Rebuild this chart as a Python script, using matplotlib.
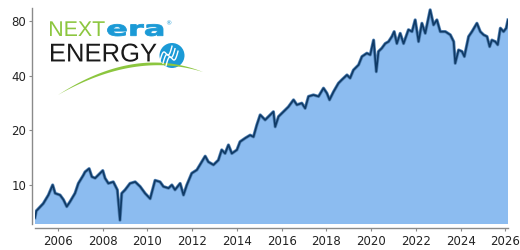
import matplotlib
matplotlib.use("Agg")
import matplotlib.pyplot as plt
import numpy as np
from matplotlib.textpath import TextPath
from matplotlib.font_manager import FontProperties
from matplotlib.patches import PathPatch, Ellipse, Polygon
from matplotlib.transforms import Affine2D
from matplotlib.ticker import FixedLocator, FixedFormatter, NullLocator

# price history (decimal year, adjusted price)
years = [2004.97, 2005.03, 2005.12, 2005.34, 2005.57, 2005.76, 2005.87, 2006.09, 2006.24,
         2006.39, 2006.54, 2006.76, 2006.91, 2007.13, 2007.21, 2007.39, 2007.51, 2007.66,
         2007.88, 2008.00, 2008.10, 2008.25, 2008.47, 2008.65, 2008.77, 2008.85, 2009.00,
         2009.22, 2009.45, 2009.67, 2009.89, 2010.12, 2010.34, 2010.56, 2010.71, 2010.94,
         2011.09, 2011.23, 2011.46, 2011.61, 2011.76, 2011.98, 2012.21, 2012.43, 2012.58,
         2012.72, 2012.95, 2013.17, 2013.32, 2013.47, 2013.62, 2013.77, 2014.00, 2014.14,
         2014.37, 2014.59, 2014.74, 2014.89, 2015.04, 2015.26, 2015.49, 2015.63, 2015.71,
         2015.86, 2016.08, 2016.30, 2016.53, 2016.68, 2016.90, 2017.05, 2017.20, 2017.42,
         2017.65, 2017.87, 2018.02, 2018.14, 2018.32, 2018.54, 2018.69, 2018.92, 2019.06,
         2019.21, 2019.44, 2019.59, 2019.81, 2019.96, 2020.11, 2020.23, 2020.33, 2020.48,
         2020.63, 2020.78, 2020.93, 2021.03, 2021.15, 2021.30, 2021.45, 2021.67, 2021.83,
         2021.97, 2022.12, 2022.27, 2022.42, 2022.64, 2022.79, 2022.94, 2023.09, 2023.32,
         2023.54, 2023.69, 2023.76, 2023.91, 2024.06, 2024.17, 2024.36, 2024.51, 2024.73,
         2024.88, 2025.03, 2025.18, 2025.30, 2025.40, 2025.55, 2025.66, 2025.78, 2025.92,
         2026.04, 2026.12]
prices = [6.6, 7.2, 7.4, 7.9, 8.8, 10.0, 9.0, 8.8, 8.3,
          7.6, 8.1, 9.0, 10.2, 11.3, 11.8, 12.3, 11.1, 10.9,
          11.6, 12.0, 10.9, 10.2, 10.4, 9.4, 6.4, 9.0, 9.4,
          10.2, 10.4, 9.8, 9.0, 8.4, 10.6, 10.4, 9.8, 9.6,
          10.0, 9.4, 10.2, 8.8, 10.0, 11.6, 12.1, 13.4, 14.4,
          13.4, 12.9, 13.7, 15.6, 14.9, 16.6, 14.9, 15.6, 17.3,
          18.1, 18.8, 18.4, 21.4, 24.3, 22.8, 24.3, 25.3, 20.9,
          23.8, 25.3, 26.9, 29.4, 27.6, 28.2, 26.4, 30.7, 31.3,
          30.7, 34.1, 32.0, 29.4, 32.6, 36.3, 37.9, 40.3, 38.7,
          42.9, 45.8, 50.9, 53.1, 52.0, 62.7, 42.0, 54.3, 56.6,
          60.0, 61.5, 65.6, 69.8, 60.0, 68.3, 60.0, 71.5, 69.8,
          81.0, 61.5, 77.6, 68.3, 92.0, 76.0, 81.0, 69.8, 69.8,
          67.0, 61.5, 46.7, 55.3, 54.3, 50.9, 65.6, 69.8, 77.6,
          69.8, 67.0, 65.6, 57.7, 62.7, 61.5, 59.1, 72.9, 69.8,
          72.9, 81.0]

y_ticks = [10, 20, 40, 80]
x_ticks = list(range(2006, 2027, 2))

W, H = 520, 250
fig = plt.figure(figsize=(W / 100, H / 100), dpi=100)
ax = fig.add_axes([35 / W, 1 - 224 / H, (508 - 35) / W, (224 - 8) / H])

y_lo, y_hi = 6.1, 94.2
ax.set_yscale("log")
ax.fill_between(years, prices, y_lo / 2, color="#8cbcf0", lw=0)
ax.plot(years, prices, color="#5584b6", lw=2.3, solid_joinstyle="round")
ax.plot(years, prices, color="#0f3a66", lw=1.2, solid_joinstyle="round")
ax.set_xlim(years[0], years[-1])
ax.set_ylim(y_lo, y_hi)

ax.yaxis.set_major_locator(FixedLocator(y_ticks))
ax.yaxis.set_major_formatter(FixedFormatter([str(t) for t in y_ticks]))
ax.yaxis.set_minor_locator(NullLocator())
ax.set_xticks(x_ticks)
ax.set_xticklabels([str(t) for t in x_ticks])

for s in ["top", "right"]:
    ax.spines[s].set_visible(False)
ax.spines["left"].set_position(("outward", 2.2))
ax.spines["bottom"].set_position(("outward", 2.9))
for s in ["left", "bottom"]:
    ax.spines[s].set_color("#8a8a8a")
    ax.spines[s].set_linewidth(1.0)
ax.tick_params(axis="y", length=2.5, width=0.8, color="#8a8a8a", pad=1.5,
               labelsize=8.5, labelcolor="#222222")
ax.tick_params(axis="x", length=1.8, width=0.8, color="#8a8a8a", pad=3,
               labelsize=8.5, labelcolor="#222222")


# --- logo, drawn in figure pixel coordinates ---
def px(x, y):
    return x / W, 1 - y / H


def logo_word(text, x0, x1, base, top, color, family, weight, edge=0):
    tp = TextPath((0, 0), text, size=10,
                  prop=FontProperties(family=family, weight=weight))
    bb = tp.get_extents()
    sx = (x1 - x0) / bb.width
    sy = (base - top) / bb.height
    tr = (Affine2D().translate(-bb.x0, -bb.y0).scale(sx / W, sy / H)
          .translate(x0 / W, 1 - base / H))
    fig.patches.append(PathPatch(tr.transform_path(tp), transform=fig.transFigure,
                                 facecolor=color, edgecolor=color, lw=edge))


logo_word("NEXT", 50, 104.7, 36.0, 21.3, "#8cc63f", "Liberation Sans", "normal")
logo_word("era", 107.5, 163, 36.0, 24.3, "#1b9ad6", "DejaVu Sans", "bold", edge=0.6)
logo_word("ENERGY", 51, 156.5, 61.7, 43.5, "#1a1a1a", "Liberation Sans", "normal")
fig.text(*px(165.5, 23.5), "®", fontsize=4.5, color="#1b9ad6", ha="left", va="center")

cx, cy, r = 172, 55.5, 12.5
fig.patches.append(Ellipse(px(cx, cy), 2 * r / W, 2 * r / H,
                           transform=fig.transFigure, facecolor="#1b9ad6", lw=0))
for k in range(3):
    t = np.linspace(-1, 1, 30)
    wx = cx - 6 + 6 * t + 3 * k
    wy = cy - 2 + 5 * np.sin(3 * t) - 8 * t + 2.5 * k
    fig.lines.append(plt.Line2D(wx / W, 1 - wy / H, transform=fig.transFigure,
                                color="white", lw=1.0))

# green swoosh
t = np.linspace(0, 1, 60)
p0, p1, p2 = np.array([58, 95]), np.array([135, 51]), np.array([203, 72])
c_up = np.array([p1[0], p1[1] - 6])
upper = ((1 - t) ** 2)[:, None] * p0 + (2 * (1 - t) * t)[:, None] * c_up + (t ** 2)[:, None] * p2
lower = ((1 - t) ** 2)[:, None] * p0 + (2 * (1 - t) * t)[:, None] * p1 + (t ** 2)[:, None] * p2
poly = np.vstack([upper, lower[::-1]])
fig.patches.append(Polygon(np.column_stack([poly[:, 0] / W, 1 - poly[:, 1] / H]),
                           transform=fig.transFigure, facecolor="#8cc63f", lw=0))

fig.savefig("out.png", dpi=100)
